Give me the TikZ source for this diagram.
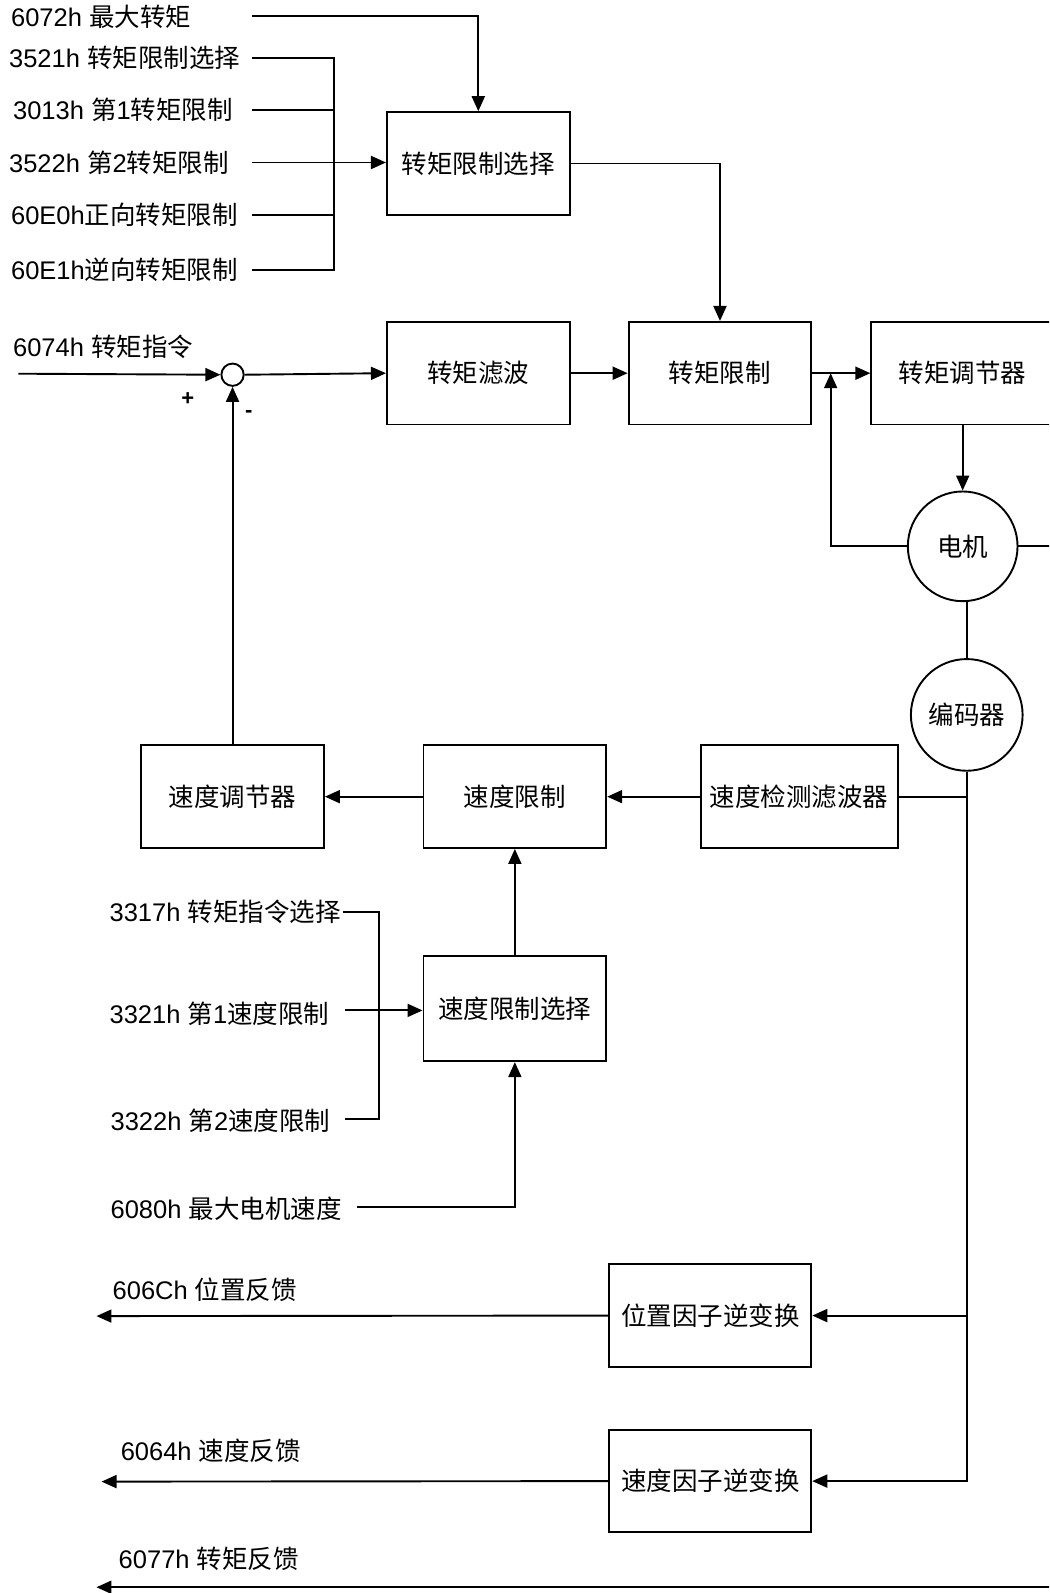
\documentclass[tikz,border=0pt]{standalone}
\usepackage{fontspec}
\setmainfont{Liberation Sans}
\newfontfamily\cjk{Noto Sans CJK SC}
\usetikzlibrary{arrows.meta}
\newcommand\zh[1]{{\cjk #1}}
\begin{document}
\begin{tikzpicture}[x=1.0155pt,y=-1.0155pt,
  line width=1.9pt,
  arr/.style={-{Triangle[length=15pt,width=13pt]}},
  box/.style={draw, line width=1.9pt, minimum width=182.8pt, minimum height=102.6pt, inner sep=0pt, font=\fontsize{25.5}{30}\selectfont},
  lbl/.style={anchor=west, inner sep=0pt, font=\fontsize{25.5}{30}\selectfont},
  circ/.style={draw, circle, line width=1.9pt, inner sep=0pt, font=\fontsize{25.5}{30}\selectfont},
  sign/.style={inner sep=0pt, font=\bfseries\fontsize{22}{26}\selectfont}]
\useasboundingbox (0,0) rectangle (1033,1568.7);
\clip (0,0) rectangle (1033,1568.7);

% ---------- labels ----------
\node[lbl] (l6072) at (10,17)  {6072h \zh{最大转矩}};
\node[lbl] (l3521) at (8,57)   {3521h \zh{转矩限制选择}};
\node[lbl] (l3013) at (12,108) {3013h \zh{第}1\zh{转矩限制}};
\node[lbl] (l3522) at (8,160)  {3522h \zh{第}2\zh{转矩限制}};
\node[lbl] (l60E0) at (10,212) {60E0h\zh{正向转矩限制}};
\node[lbl] (l60E1) at (10,266) {60E1h\zh{逆向转矩限制}};
\node[lbl] (l6074) at (12,342) {6074h \zh{转矩指令}};
\node[lbl] (l3317) at (107,898)  {3317h \zh{转矩指令选择}};
\node[lbl] (l3321) at (107,998)  {3321h \zh{第}1\zh{速度限制}};
\node[lbl] (l3322) at (108,1104) {3322h \zh{第}2\zh{速度限制}};
\node[lbl] (l6080) at (108,1190) {6080h \zh{最大电机速度}};
\node[lbl] (l606C) at (110,1270) {606Ch \zh{位置反馈}};
\node[lbl] (l6064) at (118,1429) {6064h \zh{速度反馈}};
\node[lbl] (l6077) at (116,1535) {6077h \zh{转矩反馈}};

% ---------- blocks ----------
\node[box] (tls) at (471,161)   {\zh{转矩限制选择}};
\node[box] (tf)  at (471,367.5) {\zh{转矩滤波}};
\node[box] (tl)  at (709,367.5) {\zh{转矩限制}};
\node[box] (tr)  at (948,367.5) {\zh{转矩调节器}};
\node[box, minimum width=197pt] (vdf) at (787,784.5) {\zh{速度检测滤波器}};
\node[box] (vl)  at (507,784.5) {\zh{速度限制}};
\node[box] (vr)  at (229,784.5) {\zh{速度调节器}};
\node[box, minimum height=105.6pt] (vls) at (507,993) {\zh{速度限制选择}};
\node[box, minimum width=202pt] (pinv) at (699.5,1295.5) {\zh{位置因子逆变换}};
\node[box, minimum width=202pt] (vinv) at (699.5,1458.5) {\zh{速度因子逆变换}};

\node[circ, minimum size=22.3pt] (sum) at (229,369) {};
\node[circ, minimum size=109.7pt] (motor) at (948,538) {\zh{电机}};
\node[circ, minimum size=111.7pt] (enc) at (952,704) {\zh{编码器}};

\node[sign] (plus)  at (185,393) {+};
\node[sign] (minus) at (245,408) {-};

% ---------- free ends ----------
\coordinate (s6072) at (248,16);
\coordinate (s3521) at (248,57);
\coordinate (s3013) at (248,108);
\coordinate (s3522) at (248,160);
\coordinate (s60E0) at (248,212);
\coordinate (s60E1) at (248,266);
\coordinate (busT) at (329,57);
\coordinate (busB) at (329,266);
\coordinate (s6074) at (18,368);
\coordinate (fb)   at (818,367.5);
\coordinate (mout) at (1040,538);
\coordinate (s3317) at (338,898);
\coordinate (s3321) at (340,995);
\coordinate (s3322) at (340,1102);
\coordinate (vbusT) at (373,898);
\coordinate (vbusB) at (373,1102);
\coordinate (s6080) at (352,1189);
\coordinate (o606C) at (95,1296);
\coordinate (o6064) at (100,1459);
\coordinate (t6077) at (1040,1563);
\coordinate (o6077) at (95,1563);

% ---------- torque limit selection ----------
\draw[arr] (s6072) -| (tls.north);
\draw (s3521) -- (busT) -- (busB) -- (s60E1);
\draw (s3013) -- (s3013 -| busT);
\draw (s60E0) -- (s60E0 -| busT);
\draw[arr] (s3522) -- (tls.west |- s3522);
\draw[arr] (tls.east) -| (tl.north);

% ---------- torque path ----------
\draw[arr] (s6074) -- (sum.west);
\draw[arr] (sum.east) -- (tf.west);
\draw[arr] (tf.east) -- (tl.west);
\draw[arr] (tl.east) -- (tr.west);
\draw[arr] (tr.south -| motor.north) -- (motor.north);
\draw[arr] (motor.west) -| (fb);
\draw (motor.east) -- (mout);
\draw (enc.north |- motor.south) -- (enc.north);

% ---------- encoder bus ----------
\draw[arr] (enc.south) -- (enc.south |- vinv.east) -- (vinv.east);
\draw (enc.south |- vdf.east) -- (vdf.east);
\draw[arr] (enc.south |- pinv.east) -- (pinv.east);

% ---------- speed path ----------
\draw[arr] (vdf.west) -- (vl.east);
\draw[arr] (vl.west) -- (vr.east);
\draw[arr] (vr.north) -- (sum.south);
\draw[arr] (vls.north) -- (vl.south);

% ---------- speed limit selection ----------
\draw (s3317) -- (vbusT) -- (vbusB) -- (s3322);
\draw[arr] (s3321) -- (vls.west |- s3321);
\draw[arr] (s6080) -| (vls.south);

% ---------- outputs ----------
\draw[arr] (pinv.west) -- (o606C);
\draw[arr] (vinv.west) -- (o6064);
\draw[arr] (t6077) -- (o6077);
\end{tikzpicture}
\end{document}
